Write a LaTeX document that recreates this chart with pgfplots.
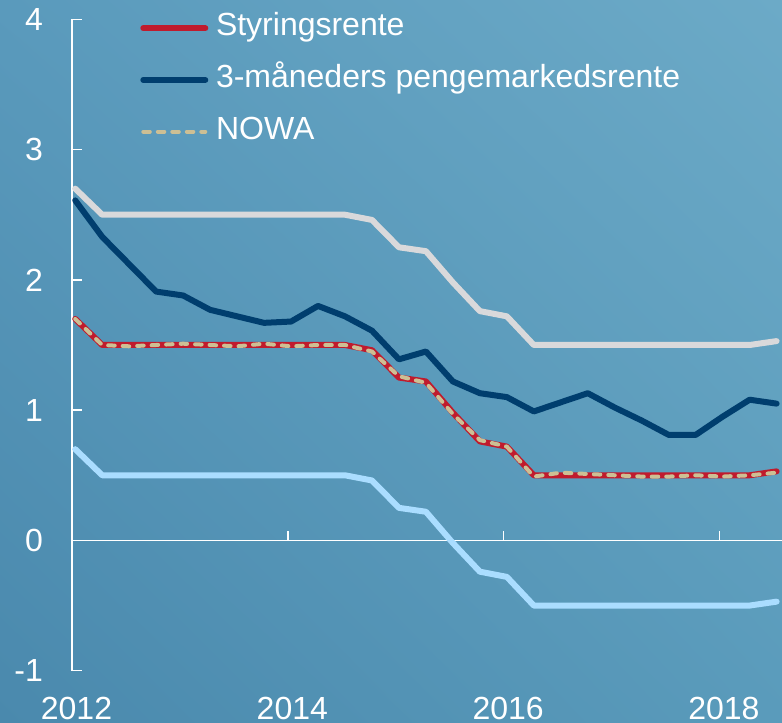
\documentclass[border=0pt]{standalone}
\usepackage{pgfplots}
\pgfplotsset{compat=1.18}
\usepackage{pgfplotstable}
\usetikzlibrary{shadings}
\usepackage{fontspec}
\setmainfont{Liberation Sans}

\definecolor{bgLL}{RGB}{74,137,173}
\definecolor{bgUR}{RGB}{108,170,199}
\definecolor{bgUL}{RGB}{90,154,188}
\definecolor{bgLR}{RGB}{90,155,187}
\definecolor{styr}{RGB}{192,27,45}
\definecolor{pm}{RGB}{0,62,110}
\definecolor{nowa}{RGB}{205,191,148}
\definecolor{bandhi}{RGB}{217,217,219}
\definecolor{bandlo}{RGB}{170,221,255}

% kvartalstall, 2012K1--2018K3
\pgfplotstableread{
x       styr  pm    nowa  hi    lo
2012.03 1.70  2.61  1.70  2.70  0.70
2012.28 1.50  2.33  1.50  2.50  0.50
2012.53 1.50  2.12  1.49  2.50  0.50
2012.78 1.50  1.91  1.50  2.50  0.50
2013.03 1.50  1.88  1.51  2.50  0.50
2013.28 1.50  1.77  1.50  2.50  0.50
2013.53 1.50  1.72  1.49  2.50  0.50
2013.78 1.50  1.67  1.51  2.50  0.50
2014.03 1.50  1.68  1.49  2.50  0.50
2014.28 1.50  1.80  1.50  2.50  0.50
2014.53 1.50  1.72  1.50  2.50  0.50
2014.78 1.46  1.61  1.45  2.46  0.46
2015.03 1.25  1.39  1.26  2.25  0.25
2015.28 1.22  1.45  1.21  2.22  0.22
2015.53 0.98  1.22  0.97  1.98  -0.02
2015.78 0.76  1.13  0.77  1.76  -0.24
2016.03 0.72  1.10  0.72  1.72  -0.28
2016.28 0.50  0.99  0.49  1.50  -0.50
2016.53 0.50  1.06  0.52  1.50  -0.50
2016.78 0.50  1.13  0.51  1.50  -0.50
2017.03 0.50  1.02  0.50  1.50  -0.50
2017.28 0.50  0.92  0.49  1.50  -0.50
2017.53 0.50  0.81  0.49  1.50  -0.50
2017.78 0.50  0.81  0.50  1.50  -0.50
2018.03 0.50  0.95  0.49  1.50  -0.50
2018.28 0.50  1.08  0.50  1.50  -0.50
2018.53 0.53  1.05  0.52  1.53  -0.47
}\rates

\begin{document}
\begin{tikzpicture}
\useasboundingbox (-72pt,-52.3pt) rectangle (710pt,670.7pt);
\shade[upper left=bgUL, upper right=bgUR, lower left=bgLL, lower right=bgLR]
    (-72pt,-52.3pt) rectangle (710pt,670.7pt);
\begin{axis}[
    width=710pt,
    height=651.4pt,
    scale only axis,
    xmin=2012, xmax=2018.58,
    ymin=-1, ymax=4,
    axis y line*=left,
    axis x line*=bottom,
    x axis line style={draw=none},
    y axis line style={white, line width=1.5pt},
    xtick={2012,2014,2016,2018},
    xticklabels={2012,2014,2016,2018},
    x tick style={draw=none},
    ytick={-1,0,1,2,3,4},
    yticklabels={-1,0,1,2,3,4},
    y tick style={white, line width=1.5pt},
    tick align=inside,
    major tick length=10pt,
    tick label style={font=\fontsize{32}{38}\selectfont, text=white, inner sep=0pt},
    xticklabel style={anchor=north, yshift=-26pt, xshift=4.5pt},
    yticklabel style={anchor=east, xshift=-29pt},
    every axis plot/.append style={line width=6pt, line join=round, line cap=round},
    legend image code/.code={\draw[#1] (0pt,0pt) -- (62pt,0pt);},
    legend style={
        at={(axis description cs:0,1)}, anchor=north west,
        xshift=68.3pt, yshift=6.3pt,
        draw=none, fill=none, inner sep=0pt, outer sep=0pt,
        column sep=7.7pt, row sep=21.2pt,
        nodes={inner sep=0pt, text height=23pt, text depth=7.5pt,
               text=white, font=\fontsize{32}{38}\selectfont},
    },
    legend cell align=left,
]
% nullinje med aarsmerker
\draw[white, line width=1.5pt] (axis cs:2012,0) -- (axis cs:2018.58,0);
\draw[white, line width=1.5pt] (axis cs:2014,0) -- ++(0pt,9pt);
\draw[white, line width=1.5pt] (axis cs:2016,0) -- ++(0pt,9pt);
\draw[white, line width=1.5pt] (axis cs:2018,0) -- ++(0pt,9pt);
% rentekorridor
\addplot[bandhi, forget plot] table[x=x, y=hi] {\rates};
\addplot[bandlo, forget plot] table[x=x, y=lo] {\rates};
% rentene
\addplot[styr] table[x=x, y=styr] {\rates};
\addlegendentry{Styringsrente}
\addplot[pm] table[x=x, y=pm] {\rates};
\addlegendentry{3-måneders pengemarkedsrente}
\addplot[nowa, line width=4pt, dash pattern=on 6.5pt off 8pt] table[x=x, y=nowa] {\rates};
\addlegendentry{NOWA}
\end{axis}
\end{tikzpicture}
\end{document}
